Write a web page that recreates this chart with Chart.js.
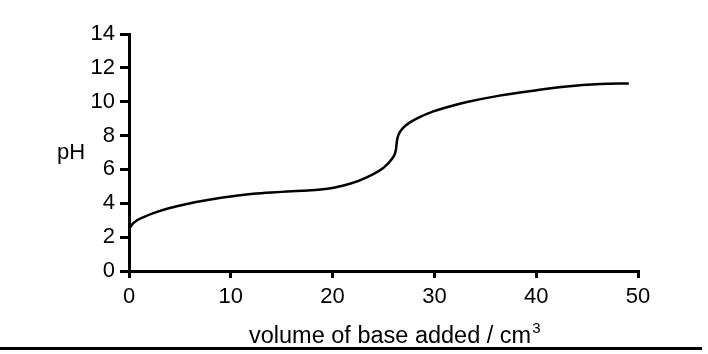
<!DOCTYPE html>
<html lang="en">
  <head>
    <meta charset="UTF-8" />
    <title>Titration curve</title>
    <script src="https://cdn.jsdelivr.net/npm/chart.js"></script>
    <style>
      html, body { margin: 0; padding: 0; background: #fff; }
      #wrap { width: 708px; height: 354px; }
    </style>
  </head>
  <body>
    <div id="wrap"><canvas id="chart" width="708" height="354"></canvas></div>

    <script>
      const volume = [0, 0.3, 0.8, 1.5, 2.4, 4, 5.7, 7.3, 8.9, 10.5, 12.2, 14, 15.5, 17, 18.8, 20.1, 21.7, 23.3, 25.0, 25.8, 26.2, 26.35, 26.6, 27.0, 27.6, 28.4, 29.9, 31.5, 33.2, 36.4, 39.7, 43.0, 46.3, 49.1];
      const pH = [2.45, 2.75, 3.0, 3.2, 3.42, 3.72, 3.96, 4.15, 4.31, 4.45, 4.56, 4.64, 4.69, 4.74, 4.81, 4.92, 5.15, 5.52, 6.1, 6.6, 7.1, 7.8, 8.2, 8.5, 8.78, 9.05, 9.43, 9.72, 9.98, 10.36, 10.65, 10.9, 11.04, 11.08];

      const xTicks = [0, 10, 20, 30, 40, 50];
      const yTicks = [0, 2, 4, 6, 8, 10, 12, 14];

      const xTitle = "volume of base added / cm";
      const xTitleSup = "3";
      const yTitle = "pH";

      const FONT = "'Liberation Sans', Arial, sans-serif";

      const extras = {
        id: "extras",
        afterDraw(chart) {
          const ctx = chart.ctx;
          ctx.save();
          ctx.fillStyle = "#000";
          ctx.textBaseline = "alphabetic";
          ctx.textAlign = "left";
          ctx.font = "22px " + FONT;
          ctx.fillText(yTitle, 57, 159);

          ctx.font = "23.5px " + FONT;
          const w = ctx.measureText(xTitle).width;
          ctx.fillText(xTitle, 249, 343);
          ctx.font = "15px " + FONT;
          ctx.fillText(xTitleSup, 249 + w + 1, 333);

          ctx.strokeStyle = "#000";
          ctx.lineWidth = 3;
          ctx.beginPath();
          ctx.moveTo(0, 348.5);
          ctx.lineTo(702, 348.5);
          ctx.stroke();
          ctx.restore();
        },
      };

      new Chart(document.getElementById("chart"), {
        type: "line",
        data: {
          datasets: [
            {
              data: volume.map((v, i) => ({ x: v, y: pH[i] })),
              borderColor: "#000",
              borderWidth: 2.5,
              pointRadius: 0,
              cubicInterpolationMode: "monotone",
              fill: false,
            },
          ],
        },
        options: {
          responsive: false,
          animation: false,
          layout: { padding: { left: 0, right: 70, top: 34, bottom: 6 } },
          plugins: { legend: { display: false }, tooltip: { enabled: false } },
          scales: {
            x: {
              type: "linear",
              min: 0,
              max: 50,
              afterBuildTicks: (s) => { s.ticks = xTicks.map((v) => ({ value: v })); },
              afterFit: (s) => { s.height = 77; },
              border: { display: true, color: "#000", width: 3 },
              grid: { drawOnChartArea: false, drawTicks: true, tickLength: 7, color: "#000", lineWidth: 3 },
              ticks: { color: "#000", padding: 6, font: { size: 22, family: FONT }, maxRotation: 0 },
            },
            y: {
              type: "linear",
              min: 0,
              max: 14,
              afterBuildTicks: (s) => { s.ticks = yTicks.map((v) => ({ value: v })); },
              afterFit: (s) => { s.width = 129; },
              border: { display: true, color: "#000", width: 3 },
              grid: { drawOnChartArea: false, drawTicks: true, tickLength: 9, color: "#000", lineWidth: 3 },
              ticks: { color: "#000", padding: 5, font: { size: 22, family: FONT } },
            },
          },
        },
        plugins: [extras],
      });
    </script>
  </body>
</html>
